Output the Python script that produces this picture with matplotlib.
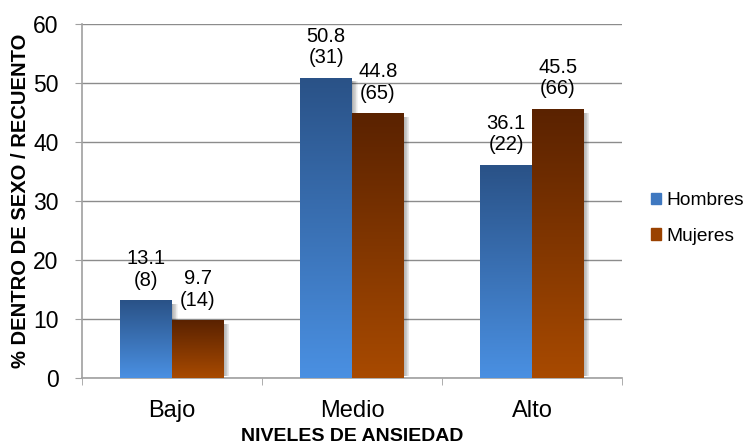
import matplotlib.pyplot as plt
import numpy as np
from matplotlib.colors import LinearSegmentedColormap
from matplotlib.patches import Rectangle

# %% Data.
categories = ['Bajo', 'Medio', 'Alto']
hombres_pct = [13.1, 50.8, 36.1]
hombres_n = [8, 31, 22]
mujeres_pct = [9.7, 44.8, 45.5]
mujeres_n = [14, 65, 66]

plt.rcParams['font.family'] = ['Liberation Sans', 'DejaVu Sans']

fig = plt.figure(figsize=(7.49, 4.46), dpi=100)
ax = fig.add_axes([0.1095, 0.1525, 0.7209, 0.7935])

blue_cmap = LinearSegmentedColormap.from_list('blue', ['#4a90e2', '#2a5287'])
brown_cmap = LinearSegmentedColormap.from_list('brown', ['#a84a00', '#5a2200'])
grad = np.linspace(0, 1, 256).reshape(-1, 1)

width = 0.287
x = np.arange(len(categories))


def gradient_bar(xc, h, cmap):
    x0, x1 = xc - width / 2, xc + width / 2
    # soft shadow on the right
    for k in range(8):
        ax.add_patch(Rectangle((x1, 0.4), 0.004 * (k + 1), h - 0.9,
                               color='black', alpha=0.045, lw=0, zorder=2))
    ax.imshow(grad, cmap=cmap, origin='lower', aspect='auto',
              extent=(x0, x1, 0, h), zorder=3, interpolation='bilinear')


for i in x:
    gradient_bar(i - width / 2, hombres_pct[i], blue_cmap)
    gradient_bar(i + width / 2, mujeres_pct[i], brown_cmap)
    ax.annotate(f'{hombres_pct[i]}\n({hombres_n[i]})', (i - width / 2, hombres_pct[i]),
                xytext=(0, 8), textcoords='offset points', ha='center', va='bottom',
                fontsize=14.5, linespacing=1.15, zorder=5)
    ax.annotate(f'{mujeres_pct[i]}\n({mujeres_n[i]})', (i + width / 2, mujeres_pct[i]),
                xytext=(0, 8), textcoords='offset points', ha='center', va='bottom',
                fontsize=14.5, linespacing=1.15, zorder=5)

ax.set_xlim(-0.5, 2.5)
ax.set_ylim(0, 60)
ax.set_yticks(range(0, 61, 10))
ax.set_xticks(x)
ax.set_xticklabels(categories)
ax.set_xticks([-0.5, 0.5, 1.5, 2.5], minor=True)
ax.tick_params(axis='x', which='major', length=0, labelsize=17, pad=16)
ax.tick_params(axis='x', which='minor', length=5, color='#a0a0a0', direction='out')
ax.tick_params(axis='y', length=5, color='#a0a0a0', labelsize=16.5, pad=12)
ax.yaxis.grid(True, color='#8c8c8c', linewidth=1)
ax.set_axisbelow(True)
for s in ['top', 'right']:
    ax.spines[s].set_visible(False)
for s in ['left', 'bottom']:
    ax.spines[s].set_color('#a0a0a0')
    ax.spines[s].set_linewidth(1.2)

ax.set_xlabel('NIVELES DE ANSIEDAD', fontsize=14, fontweight='bold', labelpad=4)
ax.set_ylabel('% DENTRO DE SEXO / RECUENTO', fontsize=14.5, fontweight='bold', labelpad=2)

handles = [Rectangle((0, 0), 1, 1, color='#3f78c0'), Rectangle((0, 0), 1, 1, color='#9a4200')]
fig.legend(handles, ['Hombres', 'Mujeres'], loc='center left', bbox_to_anchor=(0.869, 0.51),
           frameon=False, fontsize=13.8, handlelength=0.55, handleheight=0.55,
           handletextpad=0.25, labelspacing=0.95, borderaxespad=0, borderpad=0)

plt.savefig('out.png', dpi=100)
